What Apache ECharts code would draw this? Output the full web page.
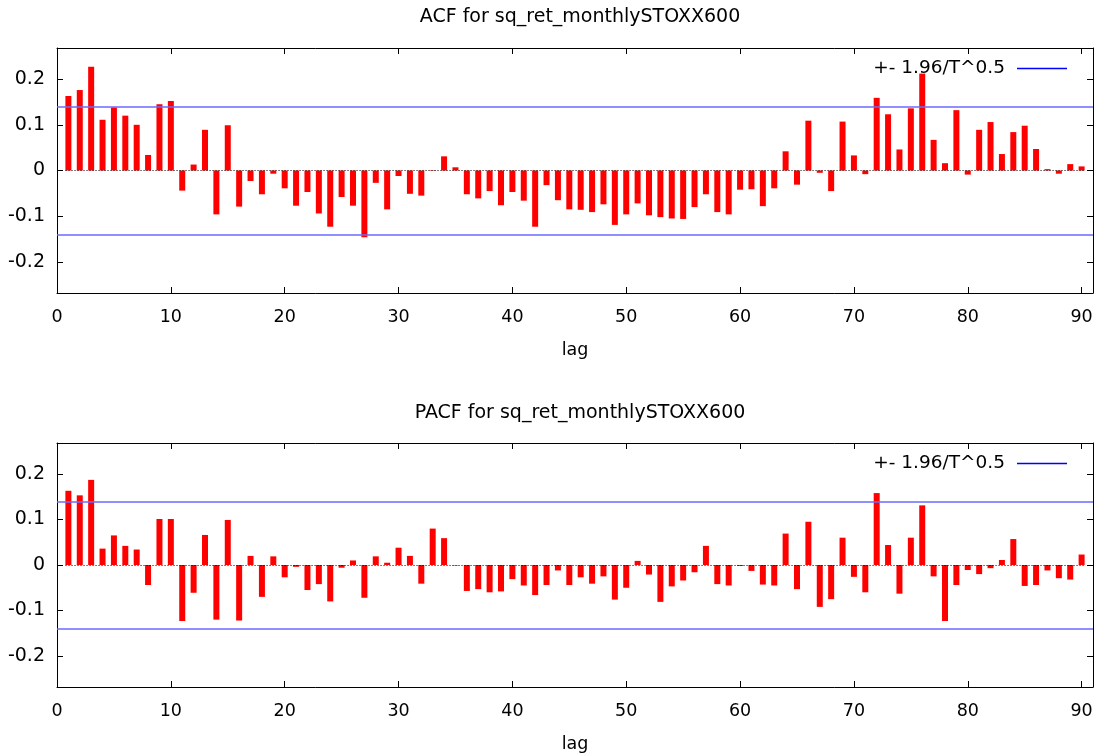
<!DOCTYPE html>
<html>
<head>
<meta charset="utf-8">
<script src="https://cdn.jsdelivr.net/npm/echarts@6/dist/echarts.min.js"></script>
<style>
html,body{margin:0;padding:0;background:#fff;}
#c{width:1102px;height:754px;}
</style>
</head>
<body>
<div id="c"></div>
<script>
// ---- data ----
const acfValues = [
  0.163, 0.176, 0.227, 0.111, 0.138, 0.120, 0.100, 0.034, 0.145, 0.152,
  -0.044, 0.013, 0.089, -0.096, 0.099, -0.079, -0.023, -0.052, -0.007, -0.039,
  -0.077, -0.047, -0.094, -0.123, -0.058, -0.077, -0.146, -0.027, -0.085, -0.012,
  -0.051, -0.055, 0.001, 0.031, 0.007, -0.052, -0.061, -0.045, -0.076, -0.047,
  -0.066, -0.123, -0.032, -0.065, -0.085, -0.086, -0.091, -0.074, -0.119, -0.096,
  -0.072, -0.098, -0.102, -0.105, -0.106, -0.080, -0.052, -0.091, -0.096, -0.042,
  -0.041, -0.078, -0.039, 0.042, -0.031, 0.109, -0.005, -0.045, 0.107, 0.033,
  -0.008, 0.159, 0.123, 0.046, 0.136, 0.212, 0.067, 0.016, 0.132, -0.009,
  0.089, 0.106, 0.036, 0.084, 0.098, 0.047, 0.003, -0.007, 0.014, 0.009
];
const pacfValues = [
  0.163, 0.153, 0.187, 0.036, 0.065, 0.042, 0.034, -0.044, 0.101, 0.101,
  -0.123, -0.061, 0.066, -0.120, 0.099, -0.122, 0.020, -0.070, 0.019, -0.027,
  -0.004, -0.055, -0.042, -0.080, -0.006, 0.010, -0.072, 0.019, 0.005, 0.038,
  0.020, -0.041, 0.080, 0.059, -0.001, -0.057, -0.053, -0.060, -0.058, -0.031,
  -0.045, -0.066, -0.044, -0.012, -0.044, -0.027, -0.041, -0.025, -0.076, -0.050,
  0.009, -0.021, -0.081, -0.047, -0.034, -0.016, 0.042, -0.042, -0.045, -0.002,
  -0.013, -0.043, -0.045, 0.069, -0.053, 0.095, -0.092, -0.075, 0.060, -0.026,
  -0.060, 0.158, 0.044, -0.063, 0.060, 0.131, -0.025, -0.123, -0.044, -0.011,
  -0.020, -0.007, 0.011, 0.057, -0.046, -0.044, -0.012, -0.029, -0.032, 0.023
];
const bandValue = 0.137;
const yTickValues = [-0.2, -0.1, 0, 0.1, 0.2];
const xTickInterval = 10;
const bandName = '+- 1.96/T^0.5';
const titles = ['ACF for sq_ret_monthlySTOXX600', 'PACF for sq_ret_monthlySTOXX600'];

// ---- chart ----
const FONT = 'DejaVu Sans';
const Y_MIN = -0.268, Y_MAX = 0.268, X_MIN = 0, X_MAX = 91;
const grids = [
  {left: 57, right: 9, top: 48, height: 245},
  {left: 57, right: 9, top: 443, height: 245}
];
const titleY = [17, 413];

function toPairs(arr) { return arr.map((v, i) => [i + 1, v]); }

const xAxes = [], yAxes = [], series = [], legends = [];
grids.forEach((g, gi) => {
  xAxes.push({
    type: 'value', gridIndex: gi, position: 'bottom', min: X_MIN, max: X_MAX, interval: xTickInterval,
    name: 'lag', nameLocation: 'middle', nameGap: 48,
    nameTextStyle: {fontFamily: FONT, fontSize: 17.5, color: '#000'},
    axisLine: {show: true, onZero: false, lineStyle: {color: '#000', width: 1}},
    axisTick: {show: true, inside: true, length: 6, lineStyle: {color: '#000'}},
    axisLabel: {show: true, margin: 15, fontFamily: FONT, fontSize: 17.5, color: '#000',
      formatter: v => (v > 90 ? '' : String(v))},
    splitLine: {show: false}
  });
  xAxes.push({
    type: 'value', gridIndex: gi, position: 'top', min: X_MIN, max: X_MAX, interval: xTickInterval,
    axisLine: {show: true, onZero: false, lineStyle: {color: '#000', width: 1}},
    axisTick: {show: true, inside: true, length: 6, lineStyle: {color: '#000'}},
    axisLabel: {show: false}, splitLine: {show: false}
  });
  yAxes.push({
    type: 'value', gridIndex: gi, position: 'left', min: Y_MIN, max: Y_MAX,
    axisLine: {show: true, onZero: false, lineStyle: {color: '#000', width: 1}},
    axisTick: {show: true, inside: true, length: 6, lineStyle: {color: '#000'}, customValues: yTickValues},
    axisLabel: {show: true, margin: 12, fontFamily: FONT, fontSize: 19, color: '#000', customValues: yTickValues,
      formatter: v => (Math.abs(v) < 1e-9 ? '0' : (+v).toFixed(1))},
    splitLine: {show: false}
  });
  yAxes.push({
    type: 'value', gridIndex: gi, position: 'right', min: Y_MIN, max: Y_MAX,
    axisLine: {show: true, onZero: false, lineStyle: {color: '#000', width: 1}},
    axisTick: {show: true, inside: true, length: 6, lineStyle: {color: '#000'}, customValues: yTickValues},
    axisLabel: {show: false}, splitLine: {show: false}
  });
  const values = gi === 0 ? acfValues : pacfValues;
  series.push({
    type: 'bar', name: titles[gi], xAxisIndex: gi * 2, yAxisIndex: gi * 2,
    data: toPairs(values), barWidth: 6, itemStyle: {color: '#ff0000'},
    silent: true, animation: false,
    markLine: {
      silent: true, symbol: 'none', animation: false, label: {show: false},
      lineStyle: {type: [1, 2], color: '#000', width: 1},
      data: [[{coord: [0.75, 0]}, {coord: [values.length + 0.25, 0]}]]
    }
  });
  series.push({
    type: 'line', name: bandName, xAxisIndex: gi * 2, yAxisIndex: gi * 2,
    data: [], symbol: 'none', lineStyle: {color: '#0000ff', width: 1}, itemStyle: {color: '#0000ff'},
    animation: false,
    markLine: {
      silent: true, symbol: 'none', animation: false, label: {show: false},
      lineStyle: {type: 'solid', color: '#6a6aff', width: 1.5},
      data: [{yAxis: bandValue}, {yAxis: -bandValue}]
    }
  });
  legends.push({
    data: [{name: bandName, icon: 'rect'}], right: 30, top: g.top + 6, align: 'right', orient: 'horizontal',
    itemWidth: 50, itemHeight: 1.5, selectedMode: false,
    textStyle: {fontFamily: FONT, fontSize: 18.5, color: '#000', padding: [0, 7, 0, 0]}
  });
});

const chart = echarts.init(document.getElementById('c'), null, {renderer: 'canvas'});
chart.setOption({
  animation: false,
  backgroundColor: '#fff',
  grid: grids,
  xAxis: xAxes,
  yAxis: yAxes,
  legend: legends,
  series: series,
  graphic: titles.map((t, i) => ({
    type: 'text', x: 580, y: titleY[i],
    style: {text: t, fontFamily: FONT, fontSize: 19, fill: '#000', align: 'center', verticalAlign: 'middle'}
  }))
});
</script>
</body>
</html>
